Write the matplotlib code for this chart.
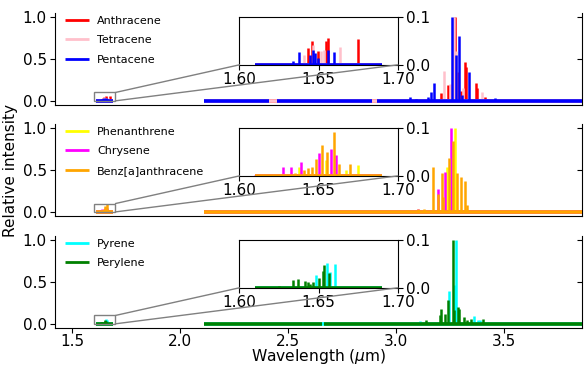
import matplotlib
matplotlib.use('Agg')
from matplotlib import pyplot as plt
from matplotlib.patches import Rectangle, ConnectionPatch

plt.rcParams['font.size'] = 11

# peak positions (um) and relative intensities
anth_x = [1.643, 1.6457, 1.6499, 1.6548, 1.6556, 1.668, 1.675,
          2.53, 3.05, 3.208, 3.238, 3.274, 3.283, 3.300, 3.320, 3.325, 3.369, 3.375, 3.412]
anth_y = [0.035, 0.049, 0.029, 0.049, 0.056, 0.002, 0.054,
          0.015, 0.01, 0.09, 0.19, 1.0, 0.35, 0.12, 0.47, 0.4, 0.21, 0.15, 0.05]
tetr_x = [1.641, 1.6467, 1.6515, 1.6536, 1.6636,
          3.223, 3.25, 3.268, 3.279, 3.31, 3.397]
tetr_y = [0.02, 0.042, 0.03, 0.031, 0.037,
          0.36, 0.2, 1.0, 0.6, 0.15, 0.1]
pent_x = [1.627, 1.6341, 1.6379, 1.6446, 1.6463, 1.648, 1.6495, 1.6558, 1.6598,
          3.066, 3.092, 3.146, 3.161, 3.177, 3.258, 3.277, 3.289, 3.306, 3.338, 3.458, 3.60, 3.72]
pent_y = [0.002, 0.009, 0.027, 0.021, 0.031, 0.024, 0.014, 0.031, 0.027,
          0.04, 0.02, 0.05, 0.11, 0.21, 1.0, 0.55, 0.77, 0.07, 0.35, 0.03, 0.01, 0.01]

phen_x = [1.6373, 1.6545, 1.6673, 1.675, 3.06, 3.237, 3.263, 3.272]
phen_y = [0.019, 0.033, 0.013, 0.023, 0.02, 0.54, 0.3, 1.0]
chry_x = [1.61, 1.62, 1.6274, 1.6324, 1.6388, 1.6503, 1.6577, 1.661,
          3.10, 3.195, 3.227, 3.254]
chry_y = [0.002, 0.003, 0.019, 0.019, 0.03, 0.048, 0.056, 0.044,
          0.03, 0.27, 0.48, 1.0]
benz_x = [1.635, 1.641, 1.643, 1.6457, 1.6482, 1.652, 1.6552, 1.6598, 1.6631, 1.6699,
          3.05, 3.10, 3.13, 3.169, 3.192, 3.21, 3.215, 3.243, 3.262, 3.281, 3.299, 3.32, 3.33]
benz_y = [0.006, 0.013, 0.016, 0.019, 0.035, 0.065, 0.051, 0.093, 0.024, 0.024,
          0.02, 0.03, 0.03, 0.54, 0.22, 0.46, 0.18, 0.64, 0.85, 0.46, 0.42, 0.37, 0.08]

pyre_x = [1.6484, 1.6552, 1.6573, 1.6606, 1.675, 1.678,
          2.66, 3.11, 3.246, 3.27, 3.277, 3.358, 3.38, 3.39]
pyre_y = [0.027, 0.053, 0.034, 0.05, 0.002, 0.002,
          0.02, 0.03, 0.39, 0.46, 1.0, 0.09, 0.04, 0.04]
pery_x = [1.62, 1.625, 1.6341, 1.6369, 1.6415, 1.643, 1.6446, 1.6463, 1.6505, 1.6526, 1.6537, 1.6563,
          3.138, 3.204, 3.208, 3.227, 3.238, 3.261, 3.268, 3.284, 3.292, 3.315, 3.33, 3.346, 3.403]
pery_y = [0.002, 0.003, 0.017, 0.018, 0.015, 0.012, 0.007, 0.012, 0.021, 0.036, 0.048, 0.031,
          0.04, 0.1, 0.18, 0.12, 0.28, 1.0, 0.16, 0.2, 0.18, 0.08, 0.05, 0.06, 0.06]

# wavelength ranges covered by each spectrum
full_range = [(1.61, 1.69), (2.11, 3.86)]
pent_range = [(1.61, 1.69), (2.11, 2.41), (2.45, 2.89), (2.91, 3.86)]
pery_range = [(1.61, 1.69), (2.11, 2.655), (2.665, 3.86)]

panels = [
    [('Anthracene', 'red', anth_x, anth_y, full_range),
     ('Tetracene', 'pink', tetr_x, tetr_y, full_range),
     ('Pentacene', 'blue', pent_x, pent_y, pent_range)],
    [('Phenanthrene', 'yellow', phen_x, phen_y, full_range),
     ('Chrysene', 'magenta', chry_x, chry_y, full_range),
     ('Benz[a]anthracene', 'orange', benz_x, benz_y, full_range)],
    [('Pyrene', 'cyan', pyre_x, pyre_y, full_range),
     ('Perylene', 'green', pery_x, pery_y, pery_range)],
]

fig = plt.figure(figsize=(5.85, 3.65), dpi=100)
bottoms = [0.7123, 0.408, 0.1014]
axes = []
for i, spec in enumerate(panels):
    ax = fig.add_axes([0.094, bottoms[i], 0.9008, 0.252])
    axins = ax.inset_axes([0.35, 0.437, 0.3006, 0.518])
    for a in (ax, axins):
        for name, col, xs, ys, rng in spec:
            for lo, hi in rng:
                a.plot([lo, hi], [0, 0], color=col, lw=2.6, solid_capstyle='butt')
            a.vlines(xs, 0, ys, color=col, lw=1.8, label=name)
    ax.set_xlim(1.42, 3.86)
    ax.set_ylim(-0.05, 1.05)
    ax.set_yticks([0, 0.5, 1.0])
    ax.tick_params(axis='y', pad=2.5)
    ax.tick_params(axis='x', pad=1.0)
    ax.spines['top'].set_visible(False)
    ax.spines['right'].set_visible(False)
    sec = ax.secondary_yaxis('right')
    sec.set_yticks([0, 0.5, 1.0])
    sec.tick_params(direction='in', labelright=False)
    ax.set_xticks([1.5, 2.0, 2.5, 3.0, 3.5])
    if i < 2:
        ax.tick_params(axis='x', bottom=False, labelbottom=False)
    leg = ax.legend(loc='upper left', bbox_to_anchor=(0, 1.08), frameon=False, fontsize=8,
                    labelspacing=0.85, handlelength=2.2, handletextpad=0.7)
    for h in leg.legend_handles:
        h.set_linewidth(2)

    axins.set_xlim(1.60, 1.70)
    axins.set_ylim(0, 0.1)
    axins.set_xticks([1.60, 1.65, 1.70])
    axins.set_xticklabels(['1.60', '1.65', '1.70'])
    axins.yaxis.tick_right()
    axins.set_yticks([0, 0.1])
    axins.set_yticklabels(['0.0', '0.1'])
    axins.tick_params(axis='x', pad=1.5)
    axins.tick_params(axis='y', pad=2.5)

    ax.add_patch(Rectangle((1.60, 0), 0.10, 0.1, fill=False, ec='0.5', lw=1, zorder=5))
    for xyA, xyB in [((1.70, 0.1), (0, 0)), ((1.70, 0), (1, 0))]:
        con = ConnectionPatch(xyA=xyA, coordsA=ax.transData, xyB=xyB, coordsB=axins.transAxes,
                              color='0.5', lw=1)
        fig.add_artist(con)
    axes.append(ax)

axes[1].set_ylabel('Relative intensity', labelpad=3)
axes[2].set_xlabel(r'Wavelength ($\mu$m)', fontsize=11.2)
axes[2].xaxis.set_label_coords(0.5, -0.305)
axes[2].xaxis.label.set_va('center')

plt.savefig('out.png', dpi=100)
